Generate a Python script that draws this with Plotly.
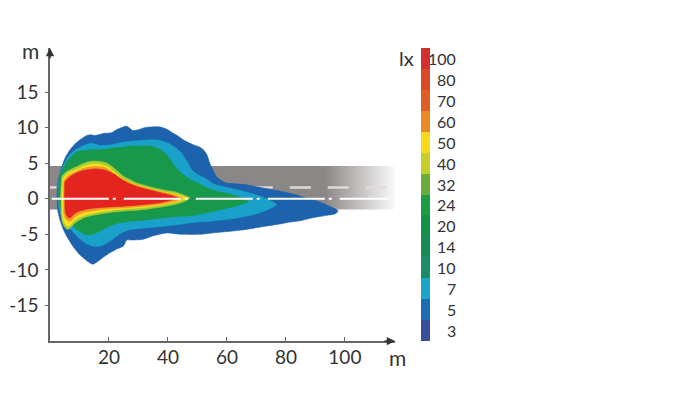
import plotly.graph_objects as go

# ---------------- data ----------------
LEVELS = ["3", "5", "7", "10", "14", "20", "24", "32", "40", "50", "60", "70", "80", "100"]
LEVEL_COLORS = ["#3b4d9a", "#1c6cb2", "#1aa6c6", "#1a8c66", "#178a55", "#17914a", "#1f9a45",
                "#6aac3e", "#c9cf2a", "#f5d91a", "#e88a25", "#de5f26", "#d84a2a", "#d22f2f"]

X_TICKS = [20, 40, 60, 80, 100]
Y_TICKS = [-15, -10, -5, 0, 5, 10, 15]
Y_TICK_TEXT = ["-15", "-10", "-5", "0", "5", "10", "15"]

# isolux outlines (m)
BLUE_X = [2.3, 2.8, 3.4, 4.0, 5.2, 6.8, 8.5, 10.2, 12.0, 13.6, 15.0, 16.4, 18.5, 20.9, 23.0, 26.0,
          28.1, 29.9, 32.0, 34.5, 37.3, 39.5, 41.8, 43.5, 45.2, 47.0, 48.6, 50.5, 52.0, 53.2, 54.2,
          55.3, 56.5, 58.0, 59.9, 63.0, 66.1, 70.0, 75.1, 79.0, 83.1, 87.0, 91.0, 94.0, 96.2, 97.7,
          96.8, 94.4, 90.0, 87.6, 84.7, 81.0, 78.5, 74.0, 69.5, 65.0, 60.4, 55.0, 50.8, 45.0, 39.5,
          35.0, 31.6, 28.0, 26.0, 25.0, 22.5, 20.3, 18.5, 16.9, 14.5, 12.5, 10.2, 8.0, 5.7, 4.2,
          3.4, 2.7, 2.4]
BLUE_Y = [0.3, 2.7, 3.6, 4.5, 5.8, 6.9, 7.7, 8.3, 8.8, 9.0, 8.9, 9.0, 9.2, 9.3, 9.8, 10.2,
          9.6, 9.7, 10.0, 10.1, 10.1, 9.8, 9.2, 8.8, 8.3, 7.9, 7.6, 7.3, 6.9, 6.2, 5.0,
          4.0, 3.1, 2.6, 2.2, 2.1, 2.0, 1.7, 1.3, 1.0, 0.6, 0.1, -0.4, -0.9, -1.3, -1.7,
          -2.1, -2.3, -2.6, -2.8, -3.1, -3.3, -3.5, -3.8, -4.1, -4.4, -4.6, -4.8, -5.0, -5.0, -4.8,
          -5.2, -5.7, -5.8, -5.8, -6.6, -7.1, -7.6, -8.1, -8.6, -9.2, -8.7, -7.9, -6.8, -5.3, -4.0,
          -3.0, -1.8, -0.5]

CYAN_X = [2.7, 3.0, 4.3, 6.2, 8.0, 9.6, 12.0, 14.1, 17.0, 20.9, 24.0, 27.7, 31.0, 34.5, 37.5,
          40.1, 42.5, 44.6, 46.5, 48.0, 50.0, 52.5, 55.9, 60.0, 66.1, 71.0, 74.5, 76.8,
          74.0, 70.0, 66.1, 60.0, 52.5, 49.2, 44.0, 37.9, 32.0, 26.5, 23.5, 20.9, 18.5, 16.4,
          14.0, 11.9, 9.5, 7.3, 5.5, 4.0, 3.1, 2.8]
CYAN_Y = [0.3, 2.5, 4.5, 5.9, 6.7, 7.1, 7.6, 7.8, 7.5, 7.6, 7.9, 8.1, 8.2, 8.3, 8.2,
          7.8, 7.2, 6.4, 5.2, 4.1, 3.4, 2.9, 2.0, 1.6, 1.0, 0.4, -0.2, -0.8,
          -1.5, -2.1, -2.5, -2.9, -3.2, -3.3, -3.6, -3.9, -4.1, -4.4, -5.0, -5.8, -6.4, -6.7,
          -6.6, -6.2, -5.4, -4.4, -3.5, -2.5, -1.4, -0.3]

GREEN_X = [2.9, 3.4, 4.8, 6.2, 8.0, 9.6, 12.0, 14.1, 17.5, 20.9, 24.0, 26.5, 30.0, 34.5, 37.0,
           39.0, 40.8, 42.4, 44.5, 46.9, 50.0, 52.5, 54.8, 58.0, 61.6, 64.5, 67.2,
           64.0, 60.4, 55.0, 49.2, 43.5, 38.0, 32.2, 27.0, 23.2, 20.0, 17.5, 15.0, 13.0, 10.5,
           8.5, 6.5, 5.1, 3.8, 3.1]
GREEN_Y = [0.3, 3.1, 4.5, 5.5, 6.2, 6.7, 6.8, 6.9, 6.9, 7.1, 7.2, 7.4, 7.4, 7.4, 7.0,
           6.4, 5.5, 4.5, 3.6, 2.9, 2.2, 1.7, 1.3, 0.9, 0.6, 0.2, -0.4,
           -0.9, -1.3, -1.8, -2.3, -2.5, -2.7, -3.0, -3.2, -3.4, -3.9, -4.4, -4.9, -5.1, -4.7,
           -4.1, -3.3, -2.5, -1.5, -0.5]

LGREEN_X = [3.6, 3.8, 4.1, 6.0, 9.0, 11.0, 13.0, 15.0, 17.5, 19.3, 20.8, 22.8, 24.8, 27.0, 29.0,
            32.0, 35.6, 39.0, 42.4, 45.0, 47.5, 45.0, 41.2, 37.0, 32.2, 26.0, 20.9, 16.0, 11.9,
            10.0, 8.5, 7.3, 6.2, 5.0, 4.2, 3.7]
LGREEN_Y = [0.1, 1.9, 3.2, 3.9, 4.5, 4.9, 5.2, 5.3, 5.2, 5.0, 4.6, 3.9, 3.2, 2.7, 2.3,
            1.9, 1.5, 1.2, 0.95, 0.6, 0.1, -0.5, -0.9, -1.2, -1.5, -1.7, -1.9, -2.2, -2.6,
            -3.0, -3.4, -3.9, -4.3, -4.0, -3.3, -1.9]

YELLOW_X = [4.0, 4.2, 4.5, 6.2, 9.0, 11.0, 13.0, 15.0, 17.5, 19.0, 20.3, 22.3, 24.3, 26.5, 28.8,
            32.0, 35.6, 39.0, 42.4, 44.5, 46.3, 44.0, 41.2, 37.0, 32.2, 26.0, 20.9, 16.0, 11.9,
            10.0, 8.5, 7.3, 6.2, 5.2, 4.5, 4.1]
YELLOW_Y = [0.1, 1.8, 2.9, 3.6, 4.1, 4.5, 4.8, 4.9, 4.8, 4.6, 4.3, 3.6, 2.9, 2.4, 2.0,
            1.6, 1.2, 0.9, 0.7, 0.4, 0.1, -0.3, -0.6, -0.9, -1.2, -1.4, -1.6, -1.9, -2.3,
            -2.6, -3.0, -3.5, -3.9, -3.6, -3.0, -1.8]

ORANGE_X = [4.5, 4.6, 4.8, 6.3, 8.5, 10.5, 13.0, 15.3, 17.8, 19.6, 21.5, 23.5, 26.0, 28.8, 32.0,
            35.8, 39.0, 42.0, 44.8, 42.5, 39.0, 34.5, 29.0, 22.0, 16.0, 12.0, 9.8, 8.2, 7.0,
            6.0, 5.0, 4.6]
ORANGE_Y = [0.1, 1.6, 2.6, 3.3, 3.75, 4.15, 4.45, 4.55, 4.45, 4.2, 3.6, 3.0, 2.45, 1.95, 1.55,
            1.15, 0.85, 0.6, 0.1, -0.35, -0.65, -0.9, -1.15, -1.35, -1.6, -1.9, -2.2, -2.65, -3.15,
            -3.1, -2.6, -1.6]

RED_X = [4.9, 5.0, 5.1, 6.5, 7.9, 10.0, 13.0, 15.5, 18.1, 20.0, 22.0, 24.0, 26.5, 29.0, 32.2,
         36.0, 39.0, 41.5, 43.5, 40.0, 36.7, 32.0, 26.5, 20.0, 15.3, 12.0, 9.6, 8.0, 6.8,
         5.8, 5.3, 5.0]
RED_Y = [0.1, 1.5, 2.4, 3.0, 3.4, 3.8, 4.1, 4.2, 4.1, 3.8, 3.4, 2.8, 2.2, 1.8, 1.4,
         1.0, 0.7, 0.4, 0.1, -0.3, -0.6, -0.8, -1.0, -1.15, -1.3, -1.5, -1.8, -2.2, -2.7,
         -2.5, -2.0, -1.2]

# road (m)
ROAD_X = [0, 118, 118, 0]
ROAD_Y = [-1.5, -1.5, 4.6, 4.6]
LANE_Y = 1.6
CENTER_X = [0.6, 115]

# ---------------- figure ----------------
AX_COLOR = "#666666"
TXT = "#333333"
FONT = "Lato"

fig = go.Figure()

# road with fade to white
fig.add_trace(go.Scatter(
    x=ROAD_X, y=ROAD_Y, fill="toself", mode="lines", line=dict(width=0),
    fillgradient=dict(type="horizontal", start=0, stop=118,
                      colorscale=[[0, "#8c8787"], [0.79, "#8c8787"], [0.9, "#c9c6c6"], [1, "#ffffff"]]),
    hoverinfo="skip", showlegend=False))

# lane dashes
fig.add_trace(go.Scatter(x=[0, 2.2], y=[LANE_Y, LANE_Y], mode="lines",
                         line=dict(color="#dedada", width=2.5), hoverinfo="skip", showlegend=False))
fig.add_trace(go.Scatter(x=[4, 118], y=[LANE_Y, LANE_Y], mode="lines",
                         line=dict(color="#dedada", width=2.5, dash="21px,17px"),
                         hoverinfo="skip", showlegend=False))

beam = [
    (BLUE_X, BLUE_Y, "#1d62ad"),
    (CYAN_X, CYAN_Y, "#1aa1c9"),
    (GREEN_X, GREEN_Y, "#17984a"),
    (LGREEN_X, LGREEN_Y, "#a9cb36"),
    (YELLOW_X, YELLOW_Y, "#f7e21c"),
    (ORANGE_X, ORANGE_Y, "#f09a2a"),
    (RED_X, RED_Y, "#e3241f"),
]
for bx, by, col in beam:
    fig.add_trace(go.Scatter(x=bx, y=by, fill="toself", fillcolor=col, mode="lines",
                             line=dict(color=col, width=0.6, shape="spline", smoothing=0.6),
                             hoverinfo="skip", showlegend=False))

# centre line
fig.add_trace(go.Scatter(x=CENTER_X, y=[0, 0], mode="lines",
                         line=dict(color="#ffffff", width=1.8, dash="57px,4px,3px,8px"),
                         hoverinfo="skip", showlegend=False))

# colour bar (discrete bands)
n = len(LEVELS)
cscale = []
for i, c in enumerate(LEVEL_COLORS):
    cscale.append([i / n, c])
    cscale.append([(i + 1) / n, c])
fig.add_trace(go.Scatter(
    x=[None], y=[None], mode="markers", showlegend=False, hoverinfo="skip",
    marker=dict(color=[0], cmin=0, cmax=n, colorscale=cscale, showscale=True,
                colorbar=dict(x=1.0754, xanchor="left", y=0, yanchor="bottom", len=1.0,
                              lenmode="fraction", thickness=9, xpad=0, ypad=0,
                              outlinewidth=0, showticklabels=False, ticks=""))))

annotations = []
for i, lab in enumerate(LEVELS):
    annotations.append(dict(xref="paper", yref="paper", x=1.1826, y=(i + 0.5) / n,
                            text=lab, showarrow=False, xanchor="right", yanchor="middle",
                            font=dict(family=FONT, size=16, color=TXT)))
annotations.append(dict(xref="paper", yref="paper", x=1.062, y=(n - 0.5) / n, text="lx",
                        showarrow=False, xanchor="right", yanchor="middle",
                        font=dict(family=FONT, size=20, color=TXT)))
# axis unit labels
annotations.append(dict(xref="paper", yref="paper", x=-0.057, y=1.0, text="m", showarrow=False,
                        xanchor="center", yanchor="bottom", yshift=-17,
                        font=dict(family=FONT, size=21, color=TXT)))
annotations.append(dict(xref="paper", yref="paper", x=1.007, y=0, text="m", showarrow=False,
                        xanchor="center", yanchor="top", yshift=-2,
                        font=dict(family=FONT, size=21, color=TXT)))
# axis arrows
annotations.append(dict(xref="x", yref="y", x=117, y=-20, ax=-12, ay=0, showarrow=True,
                        arrowhead=2, arrowsize=1.1, arrowwidth=1.5, arrowcolor="#333333", text=""))
annotations.append(dict(xref="x", yref="y", x=0, y=21.2, ax=0, ay=12, showarrow=True,
                        arrowhead=2, arrowsize=1.1, arrowwidth=1.5, arrowcolor="#333333", text=""))

# the page body adds an 8 px offset, so the margins are shifted by 8 px
fig.update_layout(
    width=700, height=394,
    margin=dict(l=42, r=313, t=40, b=61, autoexpand=False),
    paper_bgcolor="white", plot_bgcolor="white",
    showlegend=False,
    annotations=annotations,
    xaxis=dict(range=[0, 117], showgrid=False, zeroline=False, showline=True, linecolor=AX_COLOR,
               linewidth=1.5, tickvals=X_TICKS, ticks="inside", ticklen=4, tickcolor=AX_COLOR,
               tickfont=dict(family=FONT, size=19, color=TXT), ticklabelstandoff=-2,
               automargin=False, fixedrange=True),
    yaxis=dict(range=[-20, 21.2], showgrid=False, zeroline=False, showline=True, linecolor=AX_COLOR,
               linewidth=1.5, tickvals=Y_TICKS, ticktext=Y_TICK_TEXT, ticks="outside", ticklen=3,
               tickcolor=AX_COLOR, tickfont=dict(family=FONT, size=19, color=TXT),
               ticklabelstandoff=3, automargin=False, fixedrange=True),
)

fig.write_html("out.html")
